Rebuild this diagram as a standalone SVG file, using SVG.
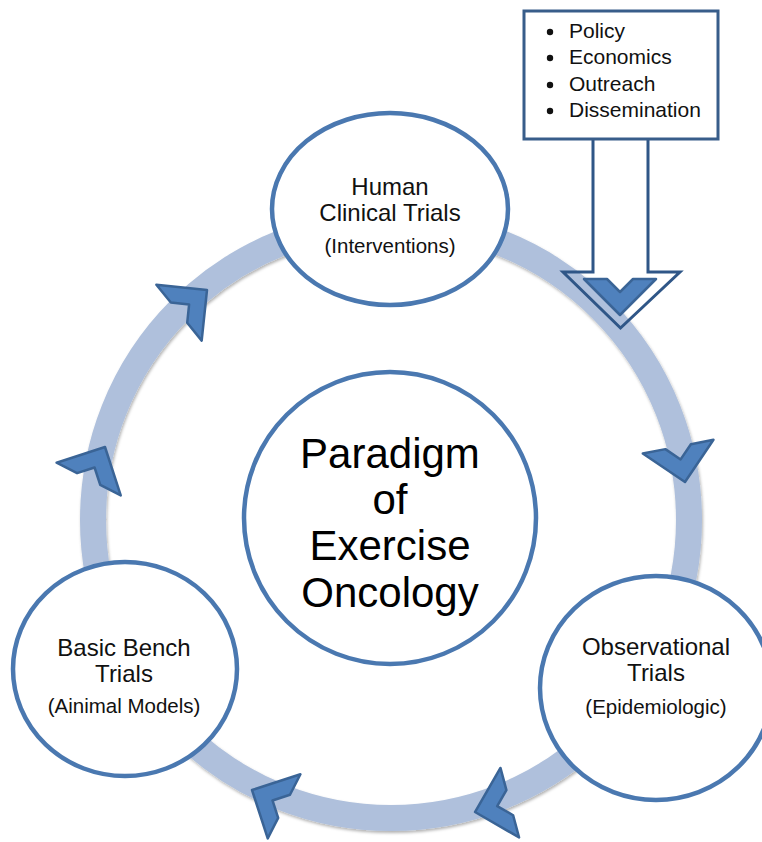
<svg xmlns="http://www.w3.org/2000/svg" width="762" height="842" viewBox="0 0 762 842">
  <style>
    .ring { fill: none; stroke: #afc0dc; stroke-width: 26; }
    .chev { fill: #4f81bd; stroke: #3a6496; stroke-width: 2.5; stroke-linejoin: round; }
    .node { fill: #ffffff; stroke: #4a78b0; stroke-width: 4.5; }
    .lbl { font-family: "Liberation Sans", Arial, sans-serif; font-size: 24px; fill: #111; text-anchor: middle; }
    .sub { font-family: "Liberation Sans", Arial, sans-serif; font-size: 20.5px; fill: #111; text-anchor: middle; }
    .big { font-family: "Liberation Sans", Arial, sans-serif; font-size: 42px; fill: #000; text-anchor: middle; }
    .box { fill: #ffffff; stroke: #385d8a; stroke-width: 3; }
    .blk { fill: none; stroke: #2f5687; stroke-width: 3; stroke-linejoin: miter; }
    .bul { font-family: "Liberation Sans", Arial, sans-serif; font-size: 21px; fill: #111; }
  </style>
  <defs>
    <filter id="sh" x="-10%" y="-10%" width="120%" height="120%">
      <feDropShadow dx="1" dy="2" stdDeviation="1.5" flood-color="#000" flood-opacity="0.3"/>
    </filter>
    <path id="chevron" d="M0,0 L-36,-36 L-36,-13 L-23,0 L-36,13 L-36,36 Z"/>
  </defs>

  <g id="connectors">
    <circle class="ring" cx="391" cy="520" r="298" filter="url(#sh)"/>
    <use href="#chevron" class="chev" transform="translate(207,290) rotate(-39)"/>
    <use href="#chevron" class="chev" transform="translate(105,447) rotate(-63)"/>
    <use href="#chevron" class="chev" transform="translate(685,482) rotate(79)"/>
    <use href="#chevron" class="chev" transform="translate(475,812) rotate(165)"/>
    <use href="#chevron" class="chev" transform="translate(252,790) rotate(-153)"/>
    <use href="#chevron" class="chev" transform="translate(620,315) rotate(90)"/>
    <path class="blk" d="M593,139 L593,272 L563,272 L620.5,328 L680,272 L648,272 L648,139"/>
  </g>

  <g id="node-human">
    <ellipse class="node" cx="390" cy="209" rx="118" ry="96"/>
    <text class="lbl" x="390" y="195">Human</text>
    <text class="lbl" x="390" y="221">Clinical Trials</text>
    <text class="sub" x="390" y="253">(Interventions)</text>
  </g>

  <g id="node-center">
    <circle class="node" cx="390" cy="518" r="146"/>
    <text class="big" x="390" y="468">Paradigm</text>
    <text class="big" x="390" y="514">of</text>
    <text class="big" x="390" y="560">Exercise</text>
    <text class="big" x="390" y="607">Oncology</text>
  </g>

  <g id="node-basic">
    <ellipse class="node" cx="125" cy="669" rx="112" ry="107"/>
    <text class="lbl" x="124" y="656">Basic Bench</text>
    <text class="lbl" x="124" y="682">Trials</text>
    <text class="sub" x="124" y="713">(Ainimal Models)</text>
  </g>

  <g id="node-observational">
    <ellipse class="node" cx="656" cy="688" rx="116" ry="112"/>
    <text class="lbl" x="656" y="655">Observational</text>
    <text class="lbl" x="656" y="681">Trials</text>
    <text class="sub" x="656" y="714">(Epidemiologic)</text>
  </g>

  <g id="node-policy">
    <rect class="box" x="524" y="11" width="194" height="128"/>
    <circle cx="550" cy="32" r="3.2" fill="#111"/>
    <circle cx="550" cy="58" r="3.2" fill="#111"/>
    <circle cx="550" cy="85" r="3.2" fill="#111"/>
    <circle cx="550" cy="111" r="3.2" fill="#111"/>
    <text class="bul" x="569" y="38">Policy</text>
    <text class="bul" x="569" y="64">Economics</text>
    <text class="bul" x="569" y="91">Outreach</text>
    <text class="bul" x="569" y="117">Dissemination</text>
  </g>
</svg>
